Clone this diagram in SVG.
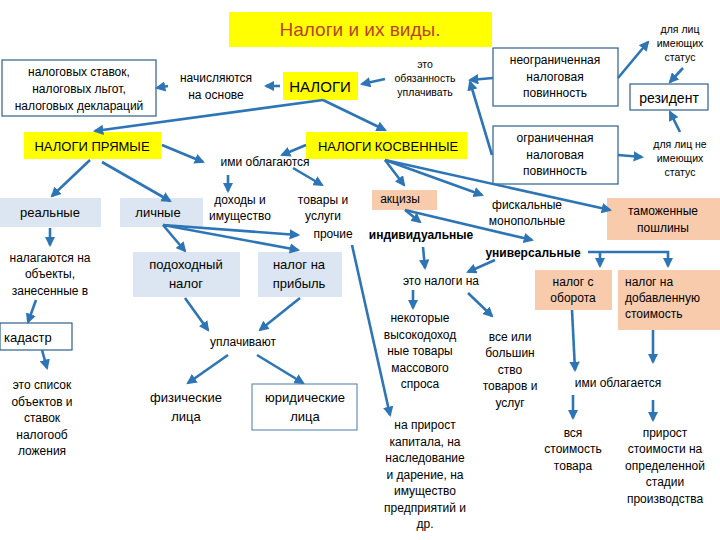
<svg xmlns="http://www.w3.org/2000/svg" width="720" height="540" viewBox="0 0 720 540">
<style>
text{font-family:"Liberation Sans","DejaVu Sans",sans-serif;font-size:12px;fill:#000;text-anchor:middle}
.s{font-size:10.5px}
.b{font-weight:bold;font-size:12px}
.ob{fill:#fff;stroke:#2e5f8a;stroke-width:1.2}
.y{fill:#ffff00}
.lb{fill:#dce6f2}
.pe{fill:#f8cbad}
#conn line,#conn path{stroke:#2e75b6;stroke-width:2.6;fill:none;marker-end:url(#ah)}
</style>
<defs><marker id="ah" viewBox="0 0 10 10" refX="8" refY="5" markerWidth="4" markerHeight="4" orient="auto"><path d="M0,0L10,5L0,10z" fill="#2e75b6"/></marker></defs>
<rect width="720" height="540" fill="#fff"/>
<g id="title"><rect x="229" y="12" width="263" height="35" class="y"/><text x="360" y="36" style="font-size:19px;fill:#b8442a">Налоги и их виды.</text></g>
<g id="osnova"><rect x="2" y="60" width="154" height="56" class="ob"/><text x="79" y="76">налоговых ставок,</text><text x="79" y="93">налоговых льгот,</text><text x="79" y="110">налоговых деклараций</text></g>
<g id="nachisl"><text x="216" y="82">начисляются</text><text x="216" y="99">на основе</text></g>
<g id="nalogi"><rect x="283" y="72" width="75" height="28" class="y"/><text x="320" y="92" style="font-size:15px">НАЛОГИ</text></g>
<g id="obyaz"><text class="s" x="425" y="68">это</text><text class="s" x="425" y="82">обязанность</text><text class="s" x="425" y="96">уплачивать</text></g>
<g id="neogr"><rect x="493" y="48" width="125" height="58" class="ob"/><text x="555" y="64">неограниченная</text><text x="555" y="81">налоговая</text><text x="555" y="97">повинность</text></g>
<g id="imeyush"><text class="s" x="680" y="33">для лиц</text><text class="s" x="680" y="47">имеющих</text><text class="s" x="680" y="61">статус</text></g>
<g id="rezident"><rect x="630" y="84" width="78" height="26" class="ob"/><text x="669" y="103" style="font-size:14px">резидент</text></g>
<g id="ogr"><rect x="493" y="126" width="125" height="58" class="ob"/><text x="555" y="142">ограниченная</text><text x="555" y="159">налоговая</text><text x="555" y="175">повинность</text></g>
<g id="neimeyush"><text class="s" x="680" y="148">для лиц не</text><text class="s" x="680" y="162">имеющих</text><text class="s" x="680" y="176">статус</text></g>
<g id="pryamye"><rect x="24" y="132" width="137" height="27" class="y"/><text x="92" y="151" style="font-size:13px">НАЛОГИ ПРЯМЫЕ</text></g>
<g id="kosv"><rect x="306" y="132" width="161" height="27" class="y"/><text x="388" y="151" style="font-size:13px">НАЛОГИ КОСВЕННЫЕ</text></g>
<g id="imi"><text x="265" y="166">ими облагаются</text></g>
<g id="realnye"><rect x="0" y="198" width="101" height="29" class="lb"/><text x="50" y="217" style="font-size:13px">реальные</text></g>
<g id="lichnye"><rect x="120" y="198" width="83" height="29" class="lb"/><text x="158" y="217" style="font-size:13px">личные</text></g>
<g id="dohody"><text x="240" y="204">доходы и</text><text x="240" y="220">имущество</text></g>
<g id="tovary"><text x="323" y="204">товары и</text><text x="323" y="220">услуги</text><text x="333" y="238">прочие</text></g>
<g id="akcizy"><rect x="372" y="190" width="65" height="20" class="pe"/><text x="400" y="203">акцизы</text></g>
<g id="fisk"><text x="527" y="209">фискальные</text><text x="527" y="225">монопольные</text></g>
<g id="tamozh"><rect x="607" y="198" width="113" height="42" class="pe"/><text x="663" y="215">таможенные</text><text x="663" y="232">пошлины</text></g>
<g id="indiv"><text class="b" x="421" y="239">индивидуальные</text></g>
<g id="univ"><text class="b" x="533" y="257">универсальные</text></g>
<g id="podoh"><rect x="133" y="252" width="107" height="45" class="lb"/><text x="186" y="269" style="font-size:13px">подоходный</text><text x="186" y="288" style="font-size:13px">налог</text></g>
<g id="pribyl"><rect x="258" y="252" width="84" height="45" class="lb"/><text x="299" y="269" style="font-size:13px">налог на</text><text x="299" y="288" style="font-size:13px">прибыль</text></g>
<g id="nalag"><text x="50" y="262">налагаются на</text><text x="50" y="278">объекты,</text><text x="50" y="295">занесенные в</text></g>
<g id="kadastr"><rect x="0" y="323" width="72" height="27" class="ob"/><text x="4" y="342" style="font-size:13px;text-anchor:start">кадастр</text></g>
<g id="spisok"><text x="42" y="389">это список</text><text x="42" y="406">объектов и</text><text x="42" y="422">ставок</text><text x="42" y="439">налогооб</text><text x="42" y="455">ложения</text></g>
<g id="uplach"><text x="243" y="346">уплачивают</text></g>
<g id="fiz"><text x="186" y="402" style="font-size:13px">физические</text><text x="186" y="421" style="font-size:13px">лица</text></g>
<g id="yur"><rect x="252" y="384" width="105" height="46" class="ob" style="stroke:#4a7ba8;stroke-width:1"/><text x="305" y="402" style="font-size:13px">юридические</text><text x="305" y="421" style="font-size:13px">лица</text></g>
<g id="etonalogi"><text x="441" y="285">это налоги на</text></g>
<g id="oborot"><rect x="535" y="270" width="77" height="40" class="pe"/><text x="573" y="286">налог с</text><text x="573" y="302">оборота</text></g>
<g id="nds"><rect x="618" y="270" width="102" height="60" class="pe"/><text x="625" y="286" style="text-anchor:start">налог на</text><text x="625" y="302" style="text-anchor:start">добавленную</text><text x="625" y="318" style="text-anchor:start">стоимость</text></g>
<g id="nekot"><text x="420" y="322">некоторые</text><text x="420" y="339">высокодоход</text><text x="420" y="355">ные товары</text><text x="420" y="372">массового</text><text x="420" y="388">спроса</text></g>
<g id="vse"><text x="510" y="341">все или</text><text x="510" y="357">большин</text><text x="510" y="374">ство</text><text x="510" y="390">товаров и</text><text x="510" y="407">услуг</text></g>
<g id="prirost"><text x="425" y="429">на прирост</text><text x="425" y="446">капитала, на</text><text x="425" y="462">наследование</text><text x="425" y="479">и дарение, на</text><text x="425" y="495">имущество</text><text x="425" y="512">предприятий и</text><text x="425" y="528">др.</text></g>
<g id="imi2"><text x="618" y="387">ими облагается</text></g>
<g id="vsya"><text x="573" y="437">вся</text><text x="573" y="453">стоимость</text><text x="573" y="470">товара</text></g>
<g id="prirost2"><text x="665" y="437">прирост</text><text x="665" y="453">стоимости на</text><text x="665" y="470">определенной</text><text x="665" y="486">стадии</text><text x="665" y="503">производства</text></g>
<g id="conn">
<line x1="280" y1="86" x2="266" y2="86"/>
<line x1="168" y1="86" x2="157" y2="88"/>
<line x1="385" y1="79" x2="362" y2="84"/>
<line x1="493" y1="78" x2="470" y2="80"/>
<line x1="492" y1="155" x2="470" y2="82"/>
<line x1="618" y1="78" x2="648" y2="42"/>
<line x1="683" y1="68" x2="670" y2="82"/>
<line x1="680" y1="132" x2="670" y2="112"/>
<line x1="618" y1="155" x2="642" y2="157"/>
<line x1="323" y1="100" x2="95" y2="131"/>
<line x1="323" y1="100" x2="385" y2="130"/>
<line x1="162" y1="145" x2="203" y2="162"/>
<line x1="306" y1="145" x2="282" y2="155"/>
<line x1="228" y1="175" x2="228" y2="191"/>
<line x1="293" y1="168" x2="322" y2="185"/>
<line x1="90" y1="160" x2="52" y2="196"/>
<line x1="102" y1="162" x2="170" y2="201"/>
<line x1="50" y1="228" x2="50" y2="245"/>
<line x1="163" y1="225" x2="185" y2="251"/>
<line x1="163" y1="225" x2="298" y2="235"/>
<line x1="163" y1="225" x2="298" y2="250"/>
<line x1="36" y1="300" x2="28" y2="322"/>
<line x1="42" y1="350" x2="47" y2="368"/>
<line x1="185" y1="298" x2="208" y2="330"/>
<line x1="300" y1="298" x2="260" y2="330"/>
<line x1="228" y1="355" x2="188" y2="383"/>
<line x1="257" y1="355" x2="303" y2="383"/>
<line x1="385" y1="160" x2="404" y2="185"/>
<line x1="385" y1="160" x2="482" y2="195"/>
<line x1="385" y1="160" x2="610" y2="210"/>
<line x1="405" y1="210" x2="420" y2="222"/>
<line x1="405" y1="210" x2="532" y2="240"/>
<line x1="423" y1="247" x2="425" y2="268"/>
<line x1="495" y1="260" x2="468" y2="272"/>
<path d="M588,252H668V266"/>
<line x1="600" y1="252" x2="600" y2="266"/>
<line x1="352" y1="245" x2="390" y2="415"/>
<line x1="413" y1="290" x2="413" y2="308"/>
<line x1="468" y1="293" x2="492" y2="316"/>
<line x1="572" y1="310" x2="575" y2="370"/>
<line x1="653" y1="330" x2="653" y2="362"/>
<line x1="573" y1="395" x2="573" y2="418"/>
<line x1="653" y1="400" x2="653" y2="420"/>
</g>
</svg>
